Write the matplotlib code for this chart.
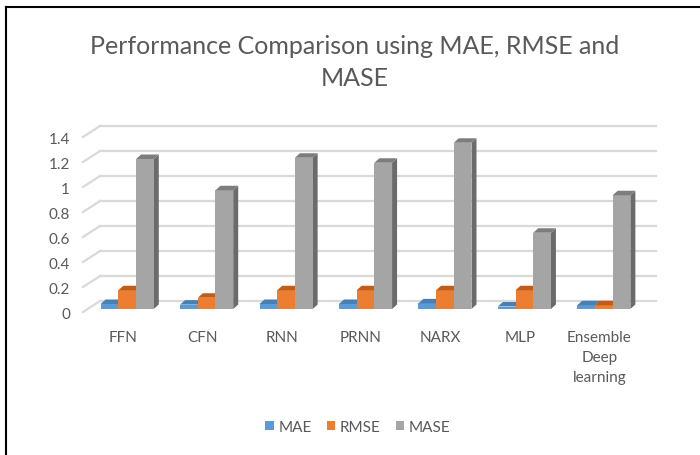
import matplotlib
matplotlib.use("Agg")
import matplotlib.pyplot as plt
from matplotlib.patches import Polygon, Patch
from matplotlib.lines import Line2D

# ---- data ----
models = ["FFN", "CFN", "RNN", "PRNN", "NARX", "MLP", "Ensemble\nDeep\nlearning"]
mae = [0.04, 0.035, 0.04, 0.04, 0.045, 0.02, 0.03]
rmse = [0.15, 0.09, 0.15, 0.15, 0.15, 0.15, 0.03]
mase = [1.20, 0.95, 1.21, 1.17, 1.33, 0.61, 0.91]
series_names = ["MAE", "RMSE", "MASE"]
y_ticks = [0, 0.2, 0.4, 0.6, 0.8, 1.0, 1.2, 1.4]
y_tick_labels = ["0", "0.2", "0.4", "0.6", "0.8", "1", "1.2", "1.4"]

# ---- style ----
FONT = "Lato"
TEXT = "#595959"
GRID = "#d9d9d9"
LABEL_SIZE = 11
face_cols = ["#5b9bd5", "#ed7d31", "#a5a5a5"]
top_cols = ["#4a7fb2", "#bf5d1c", "#7d7d7d"]
side_cols = ["#3f6d98", "#a54f16", "#6b6b6b"]

W, H = 700, 456
fig = plt.figure(figsize=(W / 100, H / 100), dpi=100)
fig.patch.set_facecolor("white")

# axes = plane of the bars' front faces (pixel geometry)
ax_left, ax_right = 87.5, 643.5
ax_bottom, ax_top = 310, 135
ax = fig.add_axes([ax_left / W, 1 - ax_bottom / H,
                   (ax_right - ax_left) / W, (ax_bottom - ax_top) / H])
xmin, xmax = -0.5, 6.5
ymin, ymax = 0.0, 1.4
ax.set_xlim(xmin, xmax)
ax.set_ylim(ymin, ymax)
ax.axis("off")

px_x = (xmax - xmin) / (ax_right - ax_left)   # data units per pixel (x)
px_y = (ymax - ymin) / (ax_bottom - ax_top)   # data units per pixel (y)


def shift(x, y, dx, dy):
    """Offset a data point by dx, dy pixels (dy positive = up)."""
    return x + dx * px_x, y + dy * px_y


# depth offsets (pixels)
BACK = (12.5, 8.0)     # back wall relative to bar front plane
FRONT = (-4.5, -3.0)   # front floor edge relative to bar front plane
BAR_D = (5.0, 4.5)     # bar depth

# back wall gridlines, left floor diagonals and value labels
for v, lab in zip(y_ticks, y_tick_labels):
    x0, y0 = shift(xmin, v, *BACK)
    x1, y1 = shift(xmax, v, *BACK)
    ax.add_line(Line2D([x0, x1], [y0, y1], color=GRID, lw=1.6,
                       clip_on=False, zorder=1))
    fx, fy = shift(xmin, v, *FRONT)
    ax.add_line(Line2D([fx, x0], [fy, y0], color=GRID, lw=1.6,
                       clip_on=False, zorder=1))
    tx, ty = shift(xmin, v, FRONT[0] - 13, FRONT[1] - 2)
    ax.text(tx, ty, lab, ha="right", va="center",
            fontsize=LABEL_SIZE, color=TEXT, family=FONT)

# 3-D style bars
bw = 0.223
series = [mae, rmse, mase]
z = 3
for i in range(len(models)):
    for s, vals in enumerate(series):
        v = vals[i]
        x0 = i + (s - 1.5) * bw
        x1 = x0 + bw
        front = [(x0, 0), (x1, 0), (x1, v), (x0, v)]
        top = [(x0, v), (x1, v), shift(x1, v, *BAR_D), shift(x0, v, *BAR_D)]
        side = [(x1, 0), shift(x1, 0, *BAR_D), shift(x1, v, *BAR_D), (x1, v)]
        ax.add_patch(Polygon(side, closed=True, fc=side_cols[s], ec="none",
                             clip_on=False, zorder=z))
        ax.add_patch(Polygon(front, closed=True, fc=face_cols[s], ec="none",
                             clip_on=False, zorder=z + 1))
        ax.add_patch(Polygon(top, closed=True, fc=top_cols[s], ec="none",
                             clip_on=False, zorder=z + 1))
        z += 2

# category labels
for i, name in enumerate(models):
    lx, ly = shift(i, 0, FRONT[0], -21)
    ax.text(lx, ly, name, ha="center", va="top", fontsize=LABEL_SIZE,
            color=TEXT, family=FONT, linespacing=1.55, clip_on=False)

# title
fig.text(355 / W, 1 - 46 / H, "Performance Comparison using MAE, RMSE and",
         ha="center", va="center", fontsize=18, color=TEXT, family=FONT)
fig.text(355 / W, 1 - 78 / H, "MASE", ha="center", va="center",
         fontsize=18, color=TEXT, family=FONT)

# legend
handles = [Patch(facecolor=c, edgecolor="none") for c in face_cols]
leg = fig.legend(handles, series_names, loc="center",
                 bbox_to_anchor=(358 / W, 1 - 428 / H), ncol=3, frameon=False,
                 handlelength=0.55, handleheight=0.55, handletextpad=0.3,
                 columnspacing=1.0, prop={"family": FONT, "size": LABEL_SIZE})
for t in leg.get_texts():
    t.set_color(TEXT)

# chart frame (top and left edges)
fig.add_artist(Line2D([6 / W, 1], [1 - 7.5 / H, 1 - 7.5 / H],
                      transform=fig.transFigure, color="black", lw=1.5))
fig.add_artist(Line2D([6 / W, 6 / W], [0, 1 - 7.5 / H],
                      transform=fig.transFigure, color="black", lw=1.5))

fig.savefig("out.png", dpi=100, facecolor="white")
